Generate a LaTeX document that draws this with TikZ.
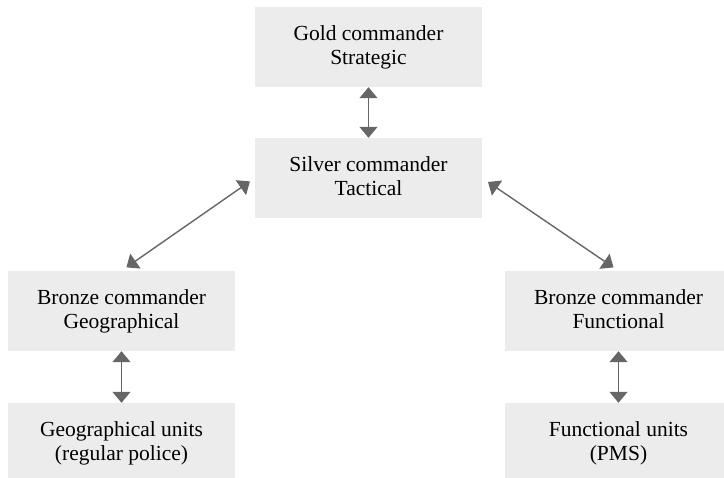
\documentclass[tikz,border=0pt]{standalone}
\usepackage{fontspec}
\setmainfont{Liberation Serif}
\usetikzlibrary{arrows.meta}
\definecolor{boxgrey}{HTML}{ECECEC}
\definecolor{linkgrey}{HTML}{666666}
\tikzset{
  cmdbox/.style={fill=boxgrey,inner sep=0pt,minimum width=227pt,minimum height=80pt,
    align=center,font=\fontsize{21.5}{24}\selectfont,
    execute at begin node={\rule{0pt}{19pt}},execute at end node={\vphantom{g}}},
  link/.style={draw=linkgrey,line width=1.4pt,{Triangle[length=11pt,width=18pt]}-{Triangle[length=11pt,width=18pt]}}
}
\begin{document}
\begin{tikzpicture}[x=1pt,y=-1pt]
      \useasboundingbox (0,0) rectangle (724,478);
      \draw
        (368.5,47) node[cmdbox] (gold){Gold commander\\Strategic}
        (368.5,178) node[cmdbox] (silver){Silver commander\\Tactical}
        (121.5,311) node[cmdbox] (bronzegeo){Bronze commander\\Geographical}
        (618.5,311) node[cmdbox] (bronzefun){Bronze commander\\Functional}
        (121.5,443) node[cmdbox] (geounits){Geographical units\\(regular police)}
        (618.5,443) node[cmdbox] (fununits){Functional units\\(PMS)};
      \begin{scope}[link]
        \draw (gold) to (silver);
        \draw[shorten <=6pt,shorten >=6pt] (silver.west) to (bronzegeo.north);
        \draw[shorten <=7pt,shorten >=6pt] (silver.east) to (bronzefun.north);
        \draw (bronzegeo) to (geounits);
        \draw (bronzefun) to (fununits);
      \end{scope}
    \end{tikzpicture}
\end{document}
